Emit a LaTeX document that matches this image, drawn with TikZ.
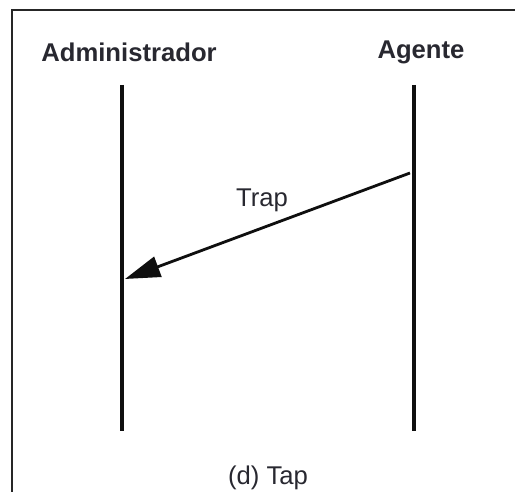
\documentclass[tikz,border=0pt]{standalone}
\usepackage{fontspec}
\setmainfont{Liberation Sans}
\usepackage{xcolor}
\usepackage{tikz}
\usetikzlibrary{arrows.meta,positioning,calc}
\definecolor{lifeblack}{RGB}{15, 15, 15}
\definecolor{labelgray}{RGB}{40, 40, 48}

\tikzset{
    actorlabel/.style={font=\fontsize{14.6}{17}\selectfont\bfseries, text=labelgray, inner sep=0pt},
    msglabel/.style={font=\fontsize{14.6}{17}\selectfont, text=labelgray, inner sep=0pt},
    lifeline/.style={line width=2.2pt, lifeblack},
}

\begin{document}
\begin{tikzpicture}
    \useasboundingbox (0, 0) rectangle (10.3, 9.84);
    % frame (left and top edges only)
    \draw[line width=1.2pt, black!85] (0.24, 0) -- (0.24, 9.64) -- (10.3, 9.64);

    \node[actorlabel] (admin) at (2.58, 8.8) {Administrador};
    \node[actorlabel] (agente) at (8.42, 8.8) {Agente};

    \coordinate (admtop) at (2.44, 8.14);
    \coordinate (admbot) at (2.44, 1.22);
    \coordinate (agtop) at (8.28, 8.14);
    \coordinate (agbot) at (8.28, 1.22);
    \draw[lifeline] (admtop) -- (admbot);
    \draw[lifeline] (agtop) -- (agbot);

    \coordinate (trapfrom) at (8.2, 6.38);
    \coordinate (trapto) at (2.5, 4.26);
    \draw[-{Triangle[length=20pt, width=12pt]}, line width=1.6pt, lifeblack] (trapfrom) -- (trapto);
    \node[msglabel] (trap) at (5.24, 5.84) {Trap};

    \node[msglabel] (caption) at (5.36, 0.28) {(d) Tap};
\end{tikzpicture}
\end{document}
